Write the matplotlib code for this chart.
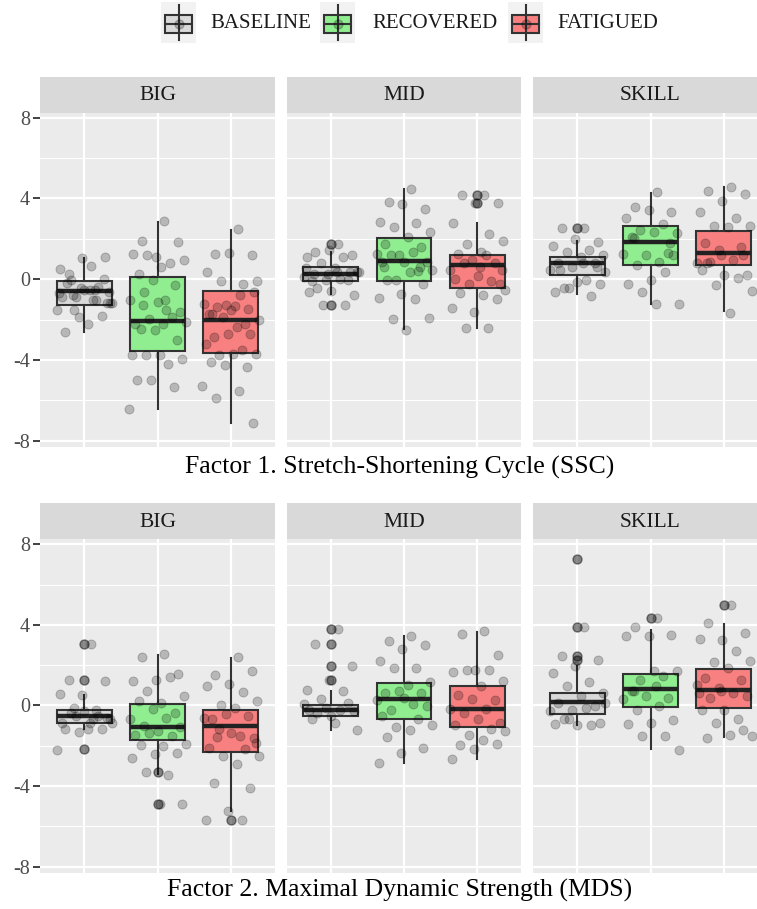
import numpy as np
import matplotlib.pyplot as plt
from matplotlib.patches import Rectangle
from matplotlib.lines import Line2D

plt.rcParams['font.family'] = ['Liberation Serif', 'DejaVu Serif']

# groups / conditions
groups = ["BIG", "MID", "SKILL"]
conditions = ["BASELINE", "RECOVERED", "FATIGUED"]
fills = ["#D9D9D9", "#90EE90", "#F88080"]
captions = ["Factor 1. Stretch-Shortening Cycle (SSC)",
            "Factor 2. Maximal Dynamic Strength (MDS)"]
ytick_vals = [-8, -4, 0, 4, 8]
ytick_labels = ["-8", "-4", "0", "4", "8"]

# box stats per panel: [whisker low, q1, median, q3, whisker high]
ssc_big_box = [[-2.6, -1.3, -0.6, -0.1, 1.06], [-6.42, -3.58, -2.07, 0.12, 2.85], [-7.14, -3.66, -2.0, -0.58, 2.43]]
ssc_mid_box = [[-0.71, -0.07, 0.28, 0.61, 1.36], [-2.45, -0.08, 0.91, 2.02, 4.45], [-2.42, -0.46, 0.7, 1.19, 2.76]]
ssc_skill_box = [[-0.75, 0.2, 0.78, 1.11, 1.9], [-1.21, 0.7, 1.85, 2.63, 4.25], [-1.57, 0.7, 1.31, 2.4, 4.55]]
mds_big_box = [[-1.19, -0.86, -0.53, -0.2, 0.51], [-3.42, -1.72, -1.06, 0.05, 2.52], [-5.23, -2.31, -1.02, -0.2, 2.36]]
mds_mid_box = [[-1.22, -0.5, -0.23, 0.0, 0.74], [-2.84, -0.66, 0.3, 1.12, 3.43], [-2.64, -1.07, -0.15, 0.99, 3.63]]
mds_skill_box = [[-0.99, -0.41, 0.17, 0.63, 1.95], [-2.18, -0.08, 0.84, 1.57, 3.76], [-1.55, -0.12, 0.76, 1.83, 4.04]]

# outliers drawn by the boxplot
ssc_big_out = [[], [], []]
ssc_mid_out = [[1.74, -1.29], [], [4.17, 3.79]]
ssc_skill_out = [[2.53], [], []]
mds_big_out = [[3.05, 1.29, -2.18], [-4.87, -3.28], [-5.69]]
mds_mid_out = [[3.8, 3.07, 1.95, 1.29], [], []]
mds_skill_out = [[7.26, 3.89, 2.44, 2.28], [4.34], [5.0]]

# individual scores (jittered points)
ssc_big_baseline = [0.66, 0.28, 1.1, 1.03, 0.5, -1.04, -1.54, -1.18, -2.2, -2.6, -1.8, -1.87, -1.54, -1.04, -0.05,
                    -1.2, -0.55, -0.9, -0.4, -0.9, -1.2, -0.55, -0.2, 0.03, -0.46, -0.7, -0.55, -0.8, -0.63]
ssc_big_recovered = [2.88, 1.89, 1.82, 1.08, 1.27, 0.78, 1.22, 0.94, 0.61, 0.28, -0.3, -0.05, -1.04, -1.54, -0.63,
                     -1.62, -1.13, -2.2, -1.87, -1.95, -2.12, -2.2, -2.45, -3.03, -2.53, -3.77, -4.19, -3.77, -3.94,
                     -3.77, -5.0, -5.35, -4.98, -6.42, -1.04, -1.29]
ssc_big_fatigued = [2.48, 1.24, 1.22, 1.3, 0.36, -0.22, -0.08, -0.08, -1.32, -1.74, -1.46, -1.29, -1.21, -0.8, -1.37,
                    -0.63, -1.54, -1.7, -2.2, -1.87, -2.04, -2.37, -2.86, -2.7, -2.7, -3.2, -3.53, -3.77, -3.69, -3.69,
                    -4.1, -4.35, -4.27, -5.27, -5.55, -5.88, -7.14]
ssc_mid_baseline = [1.74, 1.36, 1.19, 1.44, 1.11, 1.08, 0.78, 0.36, 0.53, -0.08, -0.05, -0.05, 0.12, 0.03, -0.46,
                    -0.8, -0.58, -0.63, -1.29, -1.29, 0.36, 0.36, 0.28, 0.36, 0.25, 0.53]
ssc_mid_recovered = [4.47, 3.81, 3.48, 3.71, 2.85, 2.76, 2.57, 2.32, 2.1, 1.72, 1.6, 1.19, 1.27, 1.36, 1.19, 0.86,
                     0.86, 0.86, 0.4, -0.05, 0.45, 0.36, -0.05, -0.22, -0.71, -0.93, -0.96, -1.95, -1.9, -2.5, 0.61, 0.61]
ssc_mid_fatigued = [4.17, 4.17, 3.79, 3.79, 2.8, 2.22, 1.72, 1.89, 1.36, 1.27, 0.78, 0.94, 0.45, 1.19, 0.78, -0.22,
                    0.17, 0.03, -0.08, -0.22, -0.55, -0.8, -0.68, -0.96, -1.62, -1.42, -2.42, -2.42, 0.45, 0.61]
ssc_skill_baseline = [2.53, 2.53, 1.85, 1.97, 1.64, 1.47, 1.36, 1.19, 1.11, 0.81, 0.78, 0.61, 0.45, -0.05, -0.46,
                      -0.22, -0.13, -0.63, -0.84, -0.46, 0.36, 0.78, 0.45, 0.61]
ssc_skill_recovered = [4.34, 3.59, 3.34, 3.43, 3.01, 2.73, 2.43, 2.27, 2.35, 2.1, 1.31, 1.19, 1.24, 0.86, 0.7, 1.19,
                       -0.02, -0.22, 0.36, -0.63, -1.21, -1.21, 2.02, 1.77]
ssc_skill_fatigued = [4.55, 4.39, 4.22, 3.89, 3.34, 3.01, 2.63, 2.63, 2.6, 1.77, 1.6, 1.44, 0.78, 0.94, 0.86, 0.2,
                      0.2, 0.45, 0.08, -0.3, -0.6, -1.66, 0.78, 1.19, 1.19]

mds_big_baseline = [3.05, 1.29, 1.24, 0.5, 0.59, -0.2, -0.12, -0.69, -1.16, -1.19, -1.16, -1.3, -2.2, -0.69,
                    -0.36, -0.61, -0.28, -0.86, -0.53, -0.53, -0.86, -0.86]
mds_big_recovered = [2.56, 2.39, 1.57, 1.25, 1.2, 1.4, 0.74, 0.46, 0.13, 0.21, -0.36, -0.17, -0.69, -0.61, -1.02,
                     -1.06, -1.27, -1.44, -1.52, -1.35, -1.93, -2.01, -1.98, -2.34, -2.43, -2.59, -3.45, -3.28, -4.87,
                     -4.87]
mds_big_fatigued = [2.41, 1.5, 1.73, 1.09, 0.96, 0.66, 0.0, 0.21, -0.12, -0.69, -0.53, -0.4, -0.61, -1.49, -1.55,
                    -1.6, -1.39, -2.1, -2.18, -2.51, -2.51, -2.92, -3.83, -4.11, -5.23, -5.69, -5.69, -1.19, -1.85]
mds_mid_baseline = [3.8, 3.07, 1.95, 1.29, 0.79, 0.71, 0.33, -1.22, -0.86, -0.69, 0.13, -0.12, 0.05, -0.2, -0.36,
                    -0.28, -0.53, -0.2]
mds_mid_recovered = [3.47, 3.18, 3.02, 2.81, 2.19, 1.86, 1.86, 1.16, 1.04, 0.63, 0.63, 0.74, 0.26, 0.05, -0.2,
                     -0.03, 0.38, -0.53, -0.69, -1.06, -0.99, -1.24, -1.57, -2.1, -2.38, -2.87]
mds_mid_fatigued = [3.68, 3.56, 2.49, 1.75, 1.67, 1.78, 1.75, 1.24, 0.99, 0.5, 0.26, 0.33, -0.17, -0.17, -0.36,
                    -0.86, -0.69, -0.99, -1.19, -1.44, -1.27, -1.72, -1.96, -1.93, -2.18, -2.67]
mds_skill_baseline = [3.89, 2.44, 2.28, 1.98, 1.62, 1.16, 0.96, 0.63, 0.46, 0.13, -0.03, -0.2, -0.28, -0.12,
                      -0.69, -0.86, -0.99, -0.94, -0.99, -0.69, 0.13]
mds_skill_recovered = [4.34, 3.88, 3.51, 3.43, 3.43, 1.45, 1.29, 1.7, 1.7, 0.71, 0.38, 0.46, 0.33, -0.03, -0.2,
                       -0.73, -0.86, -0.94, -1.52, -1.49, -2.21, 0.96, 0.71]
mds_skill_fatigued = [5.0, 4.09, 3.6, 3.23, 3.32, 2.69, 2.16, 2.19, 1.86, 1.37, 1.25, 0.87, 1.04, 0.63, 0.38, 0.46,
                      -0.2, -0.2, -0.69, -0.86, -1.49, -1.44, -1.6, -1.22, 0.71, 0.63]

panels = [
    [(ssc_big_box, ssc_big_out, [ssc_big_baseline, ssc_big_recovered, ssc_big_fatigued]),
     (ssc_mid_box, ssc_mid_out, [ssc_mid_baseline, ssc_mid_recovered, ssc_mid_fatigued]),
     (ssc_skill_box, ssc_skill_out, [ssc_skill_baseline, ssc_skill_recovered, ssc_skill_fatigued])],
    [(mds_big_box, mds_big_out, [mds_big_baseline, mds_big_recovered, mds_big_fatigued]),
     (mds_mid_box, mds_mid_out, [mds_mid_baseline, mds_mid_recovered, mds_mid_fatigued]),
     (mds_skill_box, mds_skill_out, [mds_skill_baseline, mds_skill_recovered, mds_skill_fatigued])],
]

W, H = 757, 909
fig = plt.figure(figsize=(W / 100, H / 100), dpi=100)


def px_axes(x0, y0, x1, y1):
    # pixel box (from top-left) -> figure fraction
    return fig.add_axes([x0 / W, 1 - y1 / H, (x1 - x0) / W, (y1 - y0) / H])


def fy(y):
    return 1 - y / H


def jitter(n):
    # deterministic spread in [-0.4, 0.4]
    k = np.arange(1, n + 1)
    return ((k * 0.6180339887) % 1.0 - 0.5) * 0.8


def draw_panel(ax, boxes, outs, points, show_y):
    ax.set_facecolor("#EBEBEB")
    for s in ax.spines.values():
        s.set_visible(False)
    stats = [dict(whislo=b[0], q1=b[1], med=b[2], q3=b[3], whishi=b[4], fliers=o)
             for b, o in zip(boxes, outs)]
    bp = ax.bxp(stats, positions=[1, 2, 3], widths=0.75, patch_artist=True,
                showcaps=False, showfliers=True,
                boxprops=dict(linewidth=1.5, edgecolor="#333333"),
                whiskerprops=dict(color="#333333", linewidth=1.5),
                medianprops=dict(color="#222222", linewidth=3.2),
                flierprops=dict(marker="o", markerfacecolor="black", markeredgecolor="black",
                                alpha=0.45, markersize=6.5))
    for patch, c in zip(bp["boxes"], fills):
        patch.set_facecolor(c)
    for i, vals in enumerate(points):
        vals = np.asarray(vals)
        ax.scatter(i + 1 + jitter(len(vals)), vals, s=42, color="black", alpha=0.22,
                   edgecolors="black", linewidths=0.7, zorder=4)
    ax.set_xlim(0.4, 3.6)
    ax.set_ylim(-8.3, 8.25)
    ax.set_xticks([1, 2, 3])
    ax.set_yticks(ytick_vals)
    ax.set_yticks([-6, -2, 2, 6], minor=True)
    ax.set_axisbelow(True)
    ax.grid(which="major", color="white", linewidth=1.6)
    ax.grid(which="minor", axis="y", color="white", linewidth=0.8)
    ax.tick_params(axis="x", length=0, labelbottom=False)
    ax.tick_params(axis="y", which="minor", length=0)
    if show_y:
        ax.set_yticklabels(ytick_labels, fontsize=14.5, color="#4D4D4D")
        ax.tick_params(axis="y", which="major", length=5, width=1.3, color="#333333", pad=2.2)
    else:
        ax.tick_params(axis="y", which="major", length=0, labelleft=False)


cols = [(40, 275), (287, 521), (533, 768)]
rows = [(76.7, 112.7, 446.7), (503.3, 539.3, 872.7)]
caption_y = [467, 890]

for r, (s0, p0, p1) in enumerate(rows):
    for c, (x0, x1) in enumerate(cols):
        strip = px_axes(x0, s0, x1, p0)
        strip.set_facecolor("#D9D9D9")
        strip.set_xticks([])
        strip.set_yticks([])
        for s in strip.spines.values():
            s.set_visible(False)
        strip.text(0.5, 0.47, groups[c], ha="center", va="center", fontsize=15.5,
                   color="#1A1A1A", transform=strip.transAxes)
        ax = px_axes(x0, p0, x1, p1)
        boxes, outs, points = panels[r][c]
        draw_panel(ax, boxes, outs, points, c == 0)
    fig.text(400 / W, fy(caption_y[r]), captions[r], ha="center", va="center", fontsize=18.5,
             color="black")

# legend at the top
key_x = [161, 320, 508]
text_x = [210, 372, 557]
key_w, key_top, key_bot = 35, 2, 43
for x, tx, lab, fc in zip(key_x, text_x, conditions, fills):
    fig.patches.append(Rectangle((x / W, fy(key_bot)), key_w / W, (key_bot - key_top) / H,
                                 transform=fig.transFigure, facecolor="#F2F2F2", edgecolor="none"))
    cx = (x + key_w / 2) / W
    fig.lines.append(Line2D([cx, cx], [fy(key_top + 3), fy(key_bot - 3)], transform=fig.transFigure,
                            color="#333333", linewidth=1.5))
    fig.patches.append(Rectangle(((x + 4) / W, fy(33)), (key_w - 8) / W, 18 / H,
                                 transform=fig.transFigure, facecolor=fc, edgecolor="#333333",
                                 linewidth=1.5))
    fig.lines.append(Line2D([(x + 4) / W, (x + key_w - 4) / W], [fy(24), fy(24)],
                            transform=fig.transFigure, color="#333333", linewidth=1.5))
    fig.lines.append(Line2D([cx], [fy(24)], transform=fig.transFigure, marker="o", markersize=6.5,
                            color="black", alpha=0.22, linestyle="none"))
    fig.text(tx / W, fy(23), lab, ha="left", va="center", fontsize=15, color="#1A1A1A")

fig.savefig("out.png", dpi=100)
